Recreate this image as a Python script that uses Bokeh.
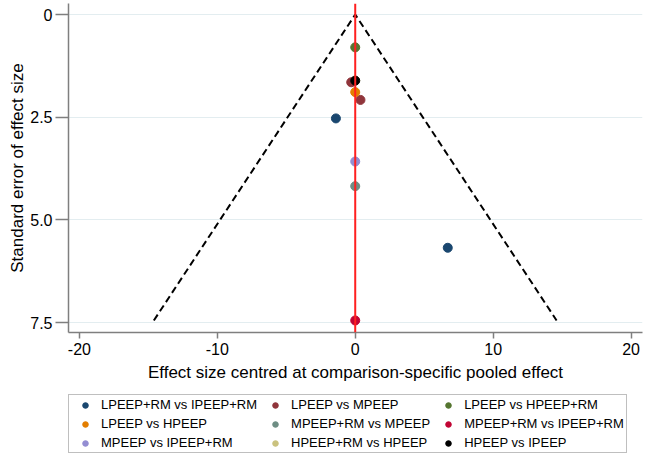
from bokeh.plotting import figure
from bokeh.layouts import column
from bokeh.models import Range1d, Legend, LegendItem, FixedTicker, Span
from bokeh.embed import file_html
from bokeh.resources import INLINE

# ---- data ----
comparisons = [
    "LPEEP+RM vs IPEEP+RM", "LPEEP vs MPEEP", "LPEEP vs HPEEP+RM",
    "LPEEP vs HPEEP", "MPEEP+RM vs MPEEP", "MPEEP+RM vs IPEEP+RM",
    "MPEEP vs IPEEP+RM", "HPEEP+RM vs HPEEP", "HPEEP vs IPEEP",
]
colors = ["#1a476f", "#90353b", "#55752f", "#e37e00", "#6e8e84",
          "#c10534", "#938dd2", "#cac27e", "#000000"]
effect_x = [[-1.40, 6.71], [-0.29, 0.38], [0.0], [0.0], [0.0],
            [0.0], [0.0], [0.0], [0.0]]
se_y = [[2.53, 5.68], [1.65, 2.08], [0.80], [1.89], [4.18],
        [7.45], [3.58], [1.61], [1.61]]
draw_order = [7, 0, 1, 2, 3, 4, 5, 6, 8]
x_ticks = [-20, -10, 0, 10, 20]
x_tick_labels = {-20: "-20", -10: "-10", 0: "0", 10: "10", 20: "20"}
y_ticks = [0, 2.5, 5.0, 7.5]
y_tick_labels = {0: "0", 2.5: "2.5", 5.0: "5.0", 7.5: "7.5"}
max_se = 7.45
z = 1.96

FONT = "Liberation Sans"

p = figure(width=645, height=390, output_backend="svg", toolbar_location=None,
           x_range=Range1d(-20.79, 20.83), y_range=Range1d(7.743, -0.268),
           min_border_left=68, min_border_right=3, min_border_top=3,
           min_border_bottom=58)
p.outline_line_color = None
p.background_fill_color = "white"
p.border_fill_color = "white"

# grid
p.xgrid.grid_line_color = None
p.ygrid.grid_line_color = "#e3edf0"
p.ygrid.grid_line_width = 1.2
p.ygrid.ticker = FixedTicker(ticks=y_ticks)

# axes
for ax in (p.xaxis[0], p.yaxis[0]):
    ax.axis_line_color = "#7f7f7f"
    ax.axis_line_width = 1.5
    ax.major_tick_line_color = "#7f7f7f"
    ax.major_tick_line_width = 1.5
    ax.minor_tick_line_color = None
    ax.major_tick_in = 0
    ax.major_label_text_font = FONT
    ax.major_label_text_font_size = "16px"
    ax.major_label_text_color = "black"
    ax.axis_label_text_font = FONT
    ax.axis_label_text_font_size = "17px"
    ax.axis_label_text_font_style = "normal"
    ax.axis_label_text_color = "black"

p.xaxis.ticker = FixedTicker(ticks=x_ticks)
p.xaxis.major_label_overrides = x_tick_labels
p.xaxis.major_tick_out = 6
p.xaxis.major_label_standoff = 4
p.xaxis.axis_label = "Effect size centred at comparison-specific pooled effect"
p.xaxis.axis_label_standoff = 5

p.yaxis.ticker = FixedTicker(ticks=y_ticks)
p.yaxis.major_label_overrides = y_tick_labels
p.yaxis.major_tick_out = 13
p.yaxis.major_label_standoff = 3
p.yaxis.axis_label = "Standard error of effect size"
p.yaxis.axis_label_standoff = 0

# funnel (pseudo 95% CI limits)
p.line([-z * max_se, 0, z * max_se], [max_se, 0, max_se],
       line_color="black", line_width=2, line_dash="7 4")
# zero line
p.add_layout(Span(location=0, dimension="height", line_color="#ff2020", line_width=2))

for i in draw_order:
    p.scatter(effect_x[i], se_y[i], size=9, fill_color=colors[i],
              line_color=colors[i], line_width=1)

# ---- legend strip below the plot (its points lie outside its ranges) ----
lf = figure(width=645, height=65, output_backend="svg", toolbar_location=None,
            x_range=Range1d(100, 101), y_range=Range1d(100, 101),
            x_axis_location=None, y_axis_location=None,
            min_border_left=0, min_border_right=0, min_border_top=0,
            min_border_bottom=0)
lf.grid.visible = False
lf.outline_line_color = None
lf.border_fill_color = "white"
lf.background_fill_color = "white"

items = []
for i in range(9):
    r = lf.scatter(effect_x[i], se_y[i], size=8, fill_color=colors[i],
                   line_color=colors[i])
    items.append(LegendItem(label=comparisons[i], renderers=[r]))

legend = Legend(items=items, ncols=3, orientation="horizontal", location=(0, 2))
legend.label_text_font = FONT
legend.label_text_font_size = "13px"
legend.label_text_color = "black"
legend.border_line_color = "#7f7f7f"
legend.border_line_width = 1.5
legend.padding = 2
legend.spacing = 4
legend.glyph_width = 28
legend.glyph_height = 14
legend.label_standoff = 2
legend.label_height = 14
legend.margin = 0
lf.add_layout(legend, "center")

layout = column(p, lf, spacing=0)
open("out.html", "w").write(file_html(layout, INLINE))
